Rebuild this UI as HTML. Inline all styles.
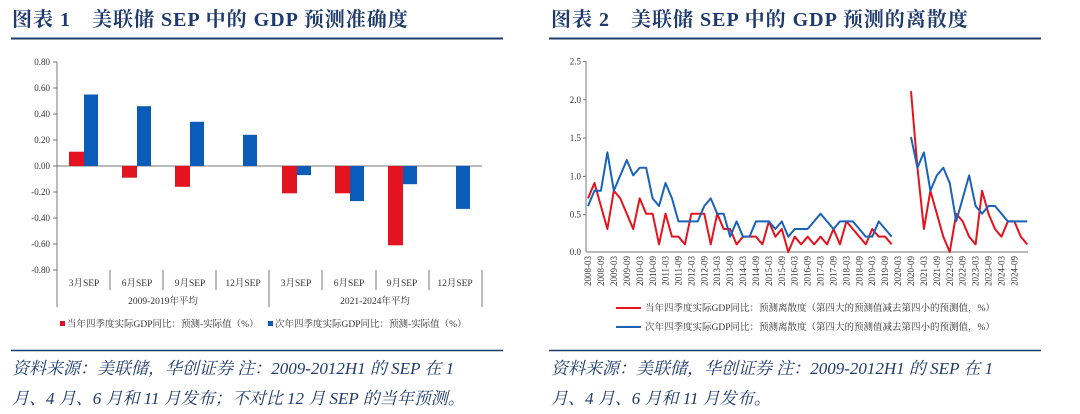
<!DOCTYPE html>
<html><head><meta charset="utf-8"><style>
html,body{margin:0;padding:0;background:#fff;width:1080px;height:414px;overflow:hidden}
svg{display:block;font-family:"Liberation Serif","Noto Serif CJK SC",serif}
.t{font-size:20px;font-weight:bold;fill:#1f3b6e;letter-spacing:1px}
.s{font-size:17px;font-style:italic;fill:#1f3b6e}
.a{font-size:9px;fill:#333}
.l{font-size:9.5px;fill:#333}
</style></head><body>
<svg width="1080" height="414" viewBox="0 0 1080 414">
<!-- titles -->
<text class="t" x="12" y="26">图表 1　美联储 SEP 中的 GDP 预测准确度</text>
<text class="t" x="551" y="26">图表 2　美联储 SEP 中的 GDP 预测的离散度</text>
<line x1="11" y1="38.5" x2="503" y2="38.5" stroke="#1f3b6e" stroke-width="2"/>
<line x1="549" y1="38.5" x2="1041" y2="38.5" stroke="#1f3b6e" stroke-width="2"/>
<line x1="11" y1="350.5" x2="503" y2="350.5" stroke="#1f3b6e" stroke-width="1.5"/>
<line x1="549" y1="350.5" x2="1041" y2="350.5" stroke="#1f3b6e" stroke-width="1.5"/>
<text class="s" x="12" y="374">资料来源：美联储，华创证券 注：2009-2012H1 的 SEP 在 1</text>
<text class="s" x="12" y="404">月、4 月、6 月和 11 月发布；不对比 12 月 SEP 的当年预测。</text>
<text class="s" x="551" y="374">资料来源：美联储，华创证券 注：2009-2012H1 的 SEP 在 1</text>
<text class="s" x="551" y="404">月、4 月、6 月和 11 月发布。</text>

<!-- LEFT CHART -->
<g class="a" text-anchor="end">
<text x="50" y="65">0.80</text><text x="50" y="91">0.60</text><text x="50" y="117">0.40</text><text x="50" y="143">0.20</text><text x="50" y="169">0.00</text><text x="50" y="195">-0.20</text><text x="50" y="221">-0.40</text><text x="50" y="247">-0.60</text><text x="50" y="273">-0.80</text>
</g>
<g stroke="#777" stroke-width="1">
<line x1="57" y1="62" x2="57" y2="307"/>
<line x1="53" y1="62" x2="57" y2="62"/><line x1="53" y1="88" x2="57" y2="88"/><line x1="53" y1="114" x2="57" y2="114"/><line x1="53" y1="140" x2="57" y2="140"/><line x1="53" y1="166" x2="57" y2="166"/><line x1="53" y1="192" x2="57" y2="192"/><line x1="53" y1="218" x2="57" y2="218"/><line x1="53" y1="244" x2="57" y2="244"/><line x1="53" y1="270" x2="57" y2="270"/>
<line x1="57" y1="166" x2="482" y2="166"/>
<line x1="110" y1="270" x2="110" y2="290"/><line x1="163" y1="270" x2="163" y2="290"/><line x1="216" y1="270" x2="216" y2="290"/><line x1="269" y1="270" x2="269" y2="307"/><line x1="322" y1="270" x2="322" y2="290"/><line x1="376" y1="270" x2="376" y2="290"/><line x1="429" y1="270" x2="429" y2="290"/><line x1="482" y1="270" x2="482" y2="307"/>
</g>
<g fill="#e3141f">
<rect x="69" y="151.7" width="15" height="14.3"/>
<rect x="122" y="166" width="15" height="11.7"/>
<rect x="175" y="166" width="15" height="20.8"/>
<rect x="282" y="166" width="15" height="27.3"/>
<rect x="335" y="166" width="15" height="27.3"/>
<rect x="388" y="166" width="15" height="79.3"/>
</g>
<g fill="#0a5cb8">
<rect x="84" y="94.5" width="14" height="71.5"/>
<rect x="137" y="106.2" width="14" height="59.8"/>
<rect x="190" y="121.8" width="14" height="44.2"/>
<rect x="243" y="134.8" width="14" height="31.2"/>
<rect x="297" y="166" width="14" height="9.1"/>
<rect x="350" y="166" width="14" height="35.1"/>
<rect x="403" y="166" width="14" height="18.2"/>
<rect x="456" y="166" width="14" height="42.9"/>
</g>
<g class="l" text-anchor="middle">
<text x="84" y="286">3月SEP</text><text x="137" y="286">6月SEP</text><text x="190" y="286">9月SEP</text><text x="243" y="286">12月SEP</text>
<text x="296" y="286">3月SEP</text><text x="349" y="286">6月SEP</text><text x="402" y="286">9月SEP</text><text x="455" y="286">12月SEP</text>
<text x="163" y="304">2009-2019年平均</text><text x="375" y="304">2021-2024年平均</text>
</g>
<rect x="60" y="321" width="5" height="5" fill="#e3141f"/>
<text class="l" x="67" y="327">当年四季度实际GDP同比：预测-实际值（%）</text>
<rect x="268" y="321" width="5" height="5" fill="#0a5cb8"/>
<text class="l" x="275" y="327">次年四季度实际GDP同比：预测-实际值（%）</text>

<!-- RIGHT CHART -->
<g class="a" text-anchor="end">
<text x="581" y="64.5">2.5</text><text x="581" y="102.8">2.0</text><text x="581" y="141.1">1.5</text><text x="581" y="179.4">1.0</text><text x="581" y="217.7">0.5</text><text x="581" y="255">0.0</text>
</g>
<g stroke="#777" stroke-width="1">
<line x1="586" y1="61" x2="586" y2="252"/>
<line x1="583" y1="61.5" x2="586" y2="61.5"/><line x1="583" y1="99.8" x2="586" y2="99.8"/><line x1="583" y1="138.1" x2="586" y2="138.1"/><line x1="583" y1="176.4" x2="586" y2="176.4"/><line x1="583" y1="214.7" x2="586" y2="214.7"/>
<line x1="586" y1="252" x2="1028" y2="252"/>
</g>
<g class="a" text-anchor="end">
<text transform="translate(591,256) rotate(-90)">2008-03</text>
<text transform="translate(604,256) rotate(-90)">2008-09</text>
<text transform="translate(617,256) rotate(-90)">2009-03</text>
<text transform="translate(630,256) rotate(-90)">2009-09</text>
<text transform="translate(643,256) rotate(-90)">2010-03</text>
<text transform="translate(656,256) rotate(-90)">2010-09</text>
<text transform="translate(668.5,256) rotate(-90)">2011-03</text>
<text transform="translate(681.4,256) rotate(-90)">2011-09</text>
<text transform="translate(694.4,256) rotate(-90)">2012-03</text>
<text transform="translate(707.3,256) rotate(-90)">2012-09</text>
<text transform="translate(720.2,256) rotate(-90)">2013-03</text>
<text transform="translate(733.1,256) rotate(-90)">2013-09</text>
<text transform="translate(746,256) rotate(-90)">2014-03</text>
<text transform="translate(759,256) rotate(-90)">2014-09</text>
<text transform="translate(771.9,256) rotate(-90)">2015-03</text>
<text transform="translate(784.8,256) rotate(-90)">2015-09</text>
<text transform="translate(797.7,256) rotate(-90)">2016-03</text>
<text transform="translate(810.6,256) rotate(-90)">2016-09</text>
<text transform="translate(823.6,256) rotate(-90)">2017-03</text>
<text transform="translate(836.5,256) rotate(-90)">2017-09</text>
<text transform="translate(849.4,256) rotate(-90)">2018-03</text>
<text transform="translate(862.3,256) rotate(-90)">2018-09</text>
<text transform="translate(875.2,256) rotate(-90)">2019-03</text>
<text transform="translate(888.2,256) rotate(-90)">2019-09</text>
<text transform="translate(901.1,256) rotate(-90)">2020-03</text>
<text transform="translate(914,256) rotate(-90)">2020-09</text>
<text transform="translate(926.9,256) rotate(-90)">2021-03</text>
<text transform="translate(939.8,256) rotate(-90)">2021-09</text>
<text transform="translate(952.8,256) rotate(-90)">2022-03</text>
<text transform="translate(965.7,256) rotate(-90)">2022-09</text>
<text transform="translate(978.6,256) rotate(-90)">2023-03</text>
<text transform="translate(991.5,256) rotate(-90)">2023-09</text>
<text transform="translate(1004.4,256) rotate(-90)">2024-03</text>
<text transform="translate(1017.4,256) rotate(-90)">2024-09</text>
</g>
<g transform="translate(588,252) scale(6.46,-76.6)" fill="none" stroke-width="2" stroke-linejoin="round">
<polyline vector-effect="non-scaling-stroke" stroke="#e3141f" points="0,.7 1,.9 2,.6 3,.3 4,.8 5,.7 6,.5 7,.3 8,.7 9,.5 10,.5 11,.1 12,.5 13,.2 14,.2 15,.1 16,.5 17,.5 18,.5 19,.1 20,.5 21,.3 22,.3 23,.1 24,.2 25,.2 26,.2 27,.1 28,.4 29,.2 30,.3 31,0 32,.2 33,.1 34,.2 35,.1 36,.2 37,.1 38,.3 39,.1 40,.4 41,.3 42,.2 43,.1 44,.3 45,.2 46,.2 47,.1"/>
<polyline vector-effect="non-scaling-stroke" stroke="#e3141f" points="50,2.1 51,1.1 52,.3 53,.8 54,.5 55,.2 56,0 57,.5 58,.4 59,.2 60,.1 61,.8 62,.5 63,.3 64,.2 65,.4 66,.4 67,.2 68,.1"/>
<polyline vector-effect="non-scaling-stroke" stroke="#1a63b8" points="0,.6 1,.8 2,.8 3,1.3 4,.8 5,1 6,1.2 7,1 8,1.1 9,1.1 10,.7 11,.6 12,.9 13,.7 14,.4 15,.4 16,.4 17,.4 18,.6 19,.7 20,.5 21,.5 22,.2 23,.4 24,.2 25,.2 26,.4 27,.4 28,.4 29,.3 30,.4 31,.2 32,.3 33,.3 34,.3 35,.4 36,.5 37,.4 38,.3 39,.4 40,.4 41,.4 42,.3 43,.2 44,.2 45,.4 46,.3 47,.2"/>
<polyline vector-effect="non-scaling-stroke" stroke="#1a63b8" points="50,1.5 51,1.1 52,1.3 53,.8 54,1 55,1.1 56,.9 57,.4 58,.7 59,1 60,.6 61,.5 62,.6 63,.6 64,.5 65,.4 66,.4 67,.4 68,.4"/>
</g>
<line x1="616" y1="308" x2="641" y2="308" stroke="#e3141f" stroke-width="2"/>
<text class="l" x="645" y="311">当年四季度实际GDP同比：预测离散度（第四大的预测值减去第四小的预测值，%）</text>
<line x1="616" y1="327" x2="641" y2="327" stroke="#1a63b8" stroke-width="2"/>
<text class="l" x="645" y="330">次年四季度实际GDP同比：预测离散度（第四大的预测值减去第四小的预测值，%）</text>
</svg>
</body></html>
